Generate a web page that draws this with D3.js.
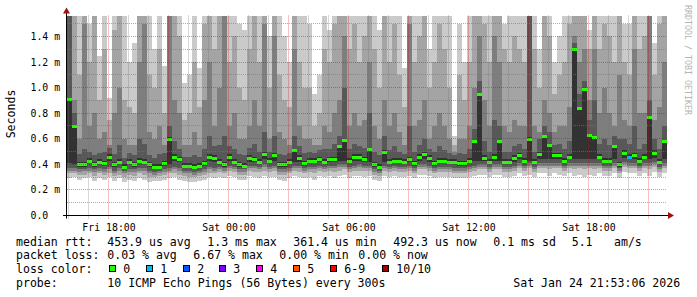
<!DOCTYPE html>
<html>
<head>
<meta charset="utf-8">
<script src="https://cdn.jsdelivr.net/npm/d3@7"></script>
<style>
html, body { margin: 0; padding: 0; background: #fff; }
svg { display: block; font-family: "DejaVu Sans Mono", monospace; }
</style>
</head>
<body>
<svg id="chart" width="697" height="297"></svg>
<script>
// 120 consolidated steps of 15 min, values in ms (sorted pings p1..p10, median, lost pings)
const med = [0.91,0.70,0.40,0.40,0.43,0.40,0.42,0.41,0.46,0.40, 0.42,0.38,0.42,0.40,0.43,0.42,0.40,0.38,0.38,0.41, 0.60,0.46,0.44,0.39,0.39,0.38,0.39,0.41,0.46,0.45,
  0.42,0.40,0.46,0.42,0.40,0.39,0.45,0.44,0.42,0.48, 0.43,0.47,0.40,0.40,0.42,0.51,0.45,0.41,0.43,0.43, 0.44,0.42,0.44,0.44,0.54,0.59,0.43,0.46,0.46,0.44,
  0.52,0.40,0.38,0.50,0.42,0.43,0.43,0.42,0.44,0.41, 0.46,0.48,0.45,0.41,0.43,0.43,0.42,0.42,0.41,0.41, 0.43,0.58,0.95,0.45,0.42,0.46,0.58,0.42,0.42,0.45,
  0.47,0.43,0.60,0.42,0.48,0.62,0.55,0.47,0.47,0.43, 0.46,1.30,0.84,0.99,0.63,0.61,0.46,0.43,0.43,0.54, 0.40,0.49,0.46,0.47,0.43,0.46,0.77,0.49,0.42,0.58];
const loss = [0,0,0,0,0,0,0,0,0,0, 0,0,0,0,0,0,0,0,0,0, 0,0,0,0,0,0,0,0,0,0,
  0,0,0,0,0,0,0,0,0,0, 0,0,0,0,0,0,0,0,0,0, 0,0,0,0,0,0,0,0,0,0,
  0,0,0,0,0,0,0,0,0,0, 0,0,0,0,0,0,0,0,0,0, 0,0,0,0,0,0,0,0,0,0,
  0,0,0,0,0,0,0,0,0,0, 0,0,0,0,0,0,0,0,0,0, 0,0,1,0,0,0,0,0,0,0];
const p10 = [1.6,1.6,1.6,1.6,1.5,1.6,1.25,1.6,0.92,1.6, 1.6,1.6,1.2,1.35,1.6,1.6,1.6,1.3,1.6,1.17, 1.6,1.6,1.6,1.04,1.1,1.6,1.15,1.6,1.6,1.6,
  1.6,1.6,1.6,1.6,1.5,1.45,1.6,1.6,1.6,1.6, 1.4,1.6,1.6,1.4,1.2,1.6,1.6,1.6,1.5,0.95, 1.1,1.6,1.45,1.6,1.6,1.6,1.6,1.6,1.6,1.6,
  1.6,1.6,1.45,1.6,1.6,1.6,1.6,1.15,1.6,1.6, 1.6,1.6,1.3,1.6,1.6,1.6,1.6,0.62,1.5,1.2, 1.6,1.6,1.6,1.6,1.6,1.6,1.6,1.5,1.6,1.6,
  1.6,1.6,1.6,1.6,1.3,1.6,1.6,1.2,1.4,1.6, 1.6,1.6,1.6,1.6,1.45,1.6,1.6,1.6,1.6,1.6, 1.6,1.5,1.5,1.6,1.6,1.6,1.6,1.35,1.6,1.6];
const p9 = [1.6,1.6,1.1,1.6,1.2,1.6,0.9,1.3,0.75,1.45, 1.6,0.9,0.85,0.8,1.6,1.6,1.1,1.0,1.3,0.8, 1.6,1.6,1.4,0.75,0.8,1.2,0.85,1.5,1.6,1.3,
  1.6,1.6,1.2,1.4,1.0,0.9,1.3,1.6,1.2,1.6, 1.0,1.6,1.1,0.9,0.85,1.6,1.2,1.0,1.0,0.7, 0.8,1.3,1.2,1.5,1.6,1.6,1.3,1.5,1.2,1.4,
  1.6,1.3,1.0,1.6,1.2,1.5,1.1,0.85,1.6,1.2, 1.4,1.6,1.0,1.2,1.5,1.3,1.0,0.55,1.1,0.9, 1.2,1.6,1.6,1.5,1.2,1.6,1.6,1.3,1.2,1.4,
  1.3,1.2,1.6,1.3,1.0,1.6,1.4,0.95,1.1,1.2, 1.5,1.6,1.6,1.6,1.3,1.6,1.3,1.5,1.4,1.2, 1.6,1.2,1.1,1.6,1.3,1.4,1.6,1.1,1.5,1.6];
const p8 = [1.6,0.9,0.6,1.5,0.7,0.8,0.6,0.65,0.55,0.8, 1.0,0.6,0.55,0.55,1.2,1.5,0.65,0.6,0.7,0.55, 1.6,0.9,0.8,0.55,0.55,0.65,0.55,0.9,1.2,0.7,
  1.0,1.6,0.7,0.8,0.6,0.6,0.7,0.9,0.7,1.5, 0.6,1.4,0.65,0.6,0.55,1.3,0.7,0.6,0.6,0.55, 0.55,0.7,0.65,0.8,0.9,1.4,0.7,0.8,0.7,0.75,
  1.2,0.7,0.6,0.9,0.7,0.8,0.65,0.55,1.5,0.7, 0.75,0.9,0.6,0.7,0.8,0.7,0.6,0.5,0.6,0.6, 0.7,1.0,1.4,0.9,0.7,1.4,1.2,0.7,0.65,0.75,
  0.7,0.7,1.6,0.7,0.65,0.9,0.8,0.65,0.7,0.7, 0.85,1.4,1.2,1.3,0.9,1.3,0.8,1.0,0.8,0.7, 1.1,0.75,0.7,1.3,0.8,0.8,1.6,0.75,0.85,1.2];
const p7 = [1.6,0.80,0.48,0.52,0.50,0.47,0.49,0.50,0.53,0.48, 0.55,0.45,0.49,0.47,0.60,0.56,0.47,0.45,0.48,0.49, 0.70,0.58,0.52,0.46,0.46,0.47,0.46,0.52,0.62,0.54,
  0.55,0.62,0.54,0.52,0.48,0.47,0.53,0.56,0.50,0.65, 0.50,0.62,0.48,0.47,0.49,0.62,0.54,0.49,0.50,0.49, 0.51,0.52,0.52,0.56,0.62,1.00,0.52,0.56,0.54,0.53,
  0.80,0.50,0.47,0.62,0.51,0.54,0.50,0.48,0.70,0.50, 0.55,0.60,0.52,0.50,0.54,0.51,0.49,0.47,0.49,0.48, 0.52,0.68,1.05,0.58,0.50,0.75,0.70,0.50,0.50,0.54,
  0.56,0.52,1.6,0.50,0.60,0.70,0.65,0.55,0.56,0.52, 0.58,1.35,0.95,1.05,0.75,0.90,0.56,0.60,0.55,0.62, 0.60,0.60,0.56,0.70,0.52,0.56,0.90,0.60,0.52,0.70];
const p6 = [0.92,0.71,0.42,0.42,0.45,0.42,0.44,0.43,0.48,0.42, 0.44,0.40,0.44,0.42,0.45,0.44,0.42,0.40,0.40,0.43, 0.61,0.48,0.46,0.41,0.41,0.40,0.41,0.43,0.48,0.47,
  0.44,0.42,0.48,0.44,0.42,0.41,0.47,0.46,0.44,0.50, 0.45,0.49,0.42,0.42,0.44,0.52,0.47,0.43,0.45,0.45, 0.46,0.44,0.46,0.46,0.55,0.60,0.45,0.48,0.48,0.46,
  0.53,0.42,0.40,0.51,0.44,0.45,0.45,0.44,0.46,0.43, 0.48,0.50,0.47,0.43,0.45,0.45,0.44,0.44,0.43,0.43, 0.45,0.59,0.96,0.47,0.44,0.48,0.59,0.44,0.44,0.47,
  0.49,0.45,0.61,0.44,0.50,0.63,0.56,0.49,0.49,0.45, 0.48,1.31,0.85,1.00,0.64,0.62,0.48,0.45,0.45,0.55, 0.42,0.51,0.48,0.49,0.45,0.48,0.78,0.51,0.44,0.59];
const p5 = [0.41,0.40,0.38,0.38,0.41,0.38,0.40,0.39,0.43,0.38, 0.40,0.36,0.40,0.38,0.41,0.40,0.38,0.36,0.36,0.39, 0.40,0.43,0.42,0.37,0.37,0.36,0.37,0.39,0.43,0.42,
  0.40,0.38,0.43,0.40,0.38,0.37,0.42,0.42,0.40,0.44, 0.41,0.43,0.38,0.38,0.40,0.42,0.42,0.39,0.41,0.41, 0.42,0.40,0.42,0.42,0.43,0.43,0.41,0.43,0.43,0.42,
  0.42,0.38,0.36,0.42,0.40,0.41,0.41,0.40,0.42,0.39, 0.43,0.44,0.42,0.39,0.41,0.41,0.40,0.40,0.39,0.39, 0.41,0.43,0.43,0.43,0.40,0.43,0.43,0.40,0.40,0.42,
  0.44,0.41,0.43,0.40,0.44,0.44,0.44,0.44,0.44,0.41, 0.44,0.44,0.44,0.44,0.44,0.44,0.44,0.41,0.41,0.44, 0.38,0.45,0.44,0.44,0.41,0.44,0.44,0.45,0.40,0.44];
const p4 = [0.37,0.37,0.36,0.36,0.37,0.36,0.37,0.36,0.38,0.35, 0.37,0.35,0.36,0.36,0.37,0.37,0.35,0.34,0.35,0.36, 0.37,0.38,0.37,0.35,0.35,0.34,0.35,0.36,0.38,0.37,
  0.38,0.37,0.39,0.38,0.36,0.36,0.39,0.39,0.38,0.40, 0.38,0.39,0.36,0.36,0.37,0.39,0.39,0.37,0.38,0.38, 0.39,0.38,0.39,0.39,0.40,0.40,0.38,0.39,0.40,0.39,
  0.39,0.36,0.35,0.39,0.38,0.39,0.38,0.38,0.39,0.37, 0.40,0.40,0.39,0.37,0.38,0.38,0.38,0.37,0.37,0.37, 0.38,0.39,0.40,0.40,0.38,0.40,0.40,0.38,0.38,0.39,
  0.41,0.39,0.41,0.38,0.41,0.41,0.41,0.41,0.41,0.39, 0.41,0.41,0.41,0.41,0.41,0.41,0.41,0.39,0.39,0.41, 0.37,0.42,0.41,0.41,0.39,0.41,0.41,0.42,0.38,0.41];
const p3 = [0.35,0.35,0.34,0.35,0.35,0.34,0.35,0.34,0.36,0.33, 0.35,0.33,0.34,0.34,0.35,0.35,0.33,0.32,0.33,0.34, 0.35,0.36,0.35,0.33,0.33,0.32,0.33,0.34,0.36,0.35,
  0.36,0.35,0.37,0.36,0.34,0.34,0.37,0.37,0.36,0.38, 0.36,0.37,0.34,0.34,0.35,0.37,0.37,0.35,0.36,0.36, 0.37,0.36,0.37,0.37,0.38,0.38,0.36,0.37,0.38,0.37,
  0.37,0.34,0.33,0.37,0.36,0.37,0.36,0.36,0.37,0.35, 0.38,0.38,0.37,0.35,0.36,0.36,0.36,0.35,0.35,0.35, 0.36,0.37,0.38,0.38,0.36,0.38,0.38,0.36,0.36,0.37,
  0.39,0.37,0.39,0.36,0.39,0.39,0.39,0.39,0.39,0.37, 0.39,0.39,0.39,0.39,0.39,0.39,0.39,0.37,0.37,0.39, 0.35,0.40,0.39,0.39,0.37,0.39,0.39,0.40,0.36,0.39];
const p2 = [0.33,0.33,0.32,0.32,0.33,0.31,0.33,0.32,0.33,0.31, 0.32,0.30,0.32,0.31,0.33,0.32,0.30,0.30,0.31,0.32, 0.33,0.33,0.32,0.31,0.30,0.30,0.31,0.32,0.33,0.33,
  0.34,0.33,0.35,0.34,0.32,0.32,0.35,0.34,0.34,0.35, 0.34,0.35,0.32,0.32,0.33,0.35,0.34,0.33,0.34,0.33, 0.35,0.34,0.35,0.34,0.35,0.36,0.34,0.35,0.35,0.35,
  0.35,0.32,0.31,0.35,0.34,0.35,0.34,0.34,0.35,0.33, 0.36,0.36,0.35,0.33,0.34,0.34,0.34,0.33,0.33,0.33, 0.34,0.35,0.36,0.36,0.34,0.36,0.36,0.34,0.34,0.35,
  0.37,0.35,0.37,0.34,0.37,0.37,0.36,0.37,0.37,0.35, 0.37,0.36,0.37,0.36,0.37,0.36,0.37,0.35,0.35,0.37, 0.33,0.38,0.37,0.37,0.35,0.37,0.36,0.38,0.34,0.37];
const p1 = [0.29,0.30,0.28,0.29,0.30,0.27,0.29,0.28,0.30,0.27, 0.29,0.26,0.28,0.27,0.29,0.28,0.26,0.27,0.27,0.28, 0.29,0.30,0.28,0.27,0.26,0.26,0.27,0.28,0.30,0.29,
  0.30,0.29,0.31,0.30,0.28,0.28,0.31,0.30,0.29,0.31, 0.30,0.30,0.28,0.27,0.29,0.31,0.30,0.29,0.30,0.28, 0.31,0.30,0.31,0.29,0.31,0.32,0.29,0.31,0.31,0.30,
  0.31,0.28,0.27,0.31,0.30,0.31,0.30,0.30,0.31,0.29, 0.32,0.32,0.31,0.29,0.30,0.30,0.30,0.29,0.29,0.29, 0.30,0.31,0.32,0.32,0.30,0.32,0.32,0.30,0.30,0.31,
  0.33,0.31,0.32,0.30,0.33,0.33,0.31,0.33,0.32,0.31, 0.33,0.31,0.32,0.30,0.32,0.31,0.33,0.31,0.31,0.33, 0.29,0.34,0.33,0.33,0.31,0.33,0.31,0.34,0.30,0.33];

const yTicks = [0, 0.2, 0.4, 0.6, 0.8, 1.0, 1.2, 1.4];
const yMinor = [0.1, 0.3, 0.5, 0.7, 0.9, 1.1, 1.3, 1.5];
const xTickLabels = ["Fri 18:00", "Sat 00:00", "Sat 06:00", "Sat 12:00", "Sat 18:00"];
const xTickTimes = [new Date(2026,0,23,18), new Date(2026,0,24,0), new Date(2026,0,24,6), new Date(2026,0,24,12), new Date(2026,0,24,18)];
const lossLabels = ["0", "1", "2", "3", "4", "5", "6-9", "10/10"];
const lossColors = ["#26ff00", "#00b8ff", "#0059ff", "#7e00ff", "#ff00ff", "#ff5500", "#ff0000", "#a10000"];
const smokeColors = ["#cacaca", "#a4a4a4", "#7e7e7e", "#585858", "#323232"];

const svg = d3.select("#chart");
const N = med.length;
const t0 = new Date(2026, 0, 23, 15, 55, 30);
const t1 = d3.timeHour.offset(t0, 30);
const x = d3.scaleTime().domain([t0, t1]).range([67, 667]);
const y = d3.scaleLinear().domain([0, 1.564]).range([215.5, 15.5]).clamp(true);
const times = d3.range(N + 1).map(i => d3.timeMinute.offset(t0, i * 15));
const pings = [p1, p2, p3, p4, p5, p6, p7, p8, p9, p10];

// smoke: band k goes from ping k to ping 11-k, outer ones lighter
const plot = svg.append("g").attr("shape-rendering", "crispEdges");
smokeColors.forEach((c, k) => {
    const lo = pings[k], hi = pings[9 - k];
    plot.append("g").selectAll("rect").data(d3.range(N)).join("rect")
        .attr("x", i => x(times[i]))
        .attr("width", i => x(times[i + 1]) - x(times[i]))
        .attr("y", i => y(hi[i]))
        .attr("height", i => Math.max(0, y(lo[i]) - y(hi[i])))
        .attr("fill", c);
});

// median, coloured by loss
plot.append("g").selectAll("rect").data(d3.range(N)).join("rect")
    .attr("x", i => x(times[i]))
    .attr("width", i => x(times[i + 1]) - x(times[i]))
    .attr("y", i => Math.round(y(med[i])) - 1)
    .attr("height", 3)
    .attr("fill", i => lossColors[loss[i]]);

// grid on top of the data
const grid = svg.append("g").attr("stroke", "none");
const minorCol = "rgba(120,120,120,0.6)", majorCol = "rgba(215,0,0,0.45)";
const gy = v => Math.floor(y(v));
const gx = t => Math.floor(x(t));
const hDots = yy => d3.range(67, 667, 2).map(xx => `M${xx},${yy}h1v1h-1z`).join("");
grid.append("g").selectAll("path").data(yMinor).join("path").attr("d", v => hDots(gy(v))).attr("fill", minorCol);
grid.append("g").selectAll("path").data(yTicks.slice(1)).join("path").attr("d", v => hDots(gy(v))).attr("fill", majorCol);
// vertical grid: 1px columns, light enough to read like the dotted lines
const hours = d3.timeHour.range(d3.timeHour.ceil(t0), t1);
grid.append("g").selectAll("rect").data(hours).join("rect")
    .attr("x", gx).attr("y", 15).attr("width", 1).attr("height", 204)
    .attr("fill", d => d.getHours() % 3 === 0 ? "rgba(215,0,0,0.24)" : "rgba(110,110,110,0.28)");

// axes
const xAxis = svg.append("g").attr("transform", "translate(0,215.5)")
    .call(d3.axisBottom(x).tickValues(xTickTimes).tickFormat((d, i) => xTickLabels[i]).tickSize(0));
xAxis.select(".domain").remove();
xAxis.selectAll("text").attr("y", 12.5).attr("dy", "0.32em")
    .attr("font-family", "DejaVu Sans Mono").attr("font-size", "9.85px").attr("fill", "#000");

const yAxis = svg.append("g").attr("transform", "translate(66.5,0)")
    .call(d3.axisLeft(y).tickValues(yTicks).tickFormat(v => v === 0 ? "0.0" : d3.format(".1f")(v) + " m").tickSize(0));
yAxis.select(".domain").remove();
yAxis.selectAll(".tick").attr("transform", d => `translate(0,${gy(d) + 0.5})`);
yAxis.selectAll("text").attr("x", 30.5 - 66.5).attr("text-anchor", "start").attr("dy", "0.34em")
    .attr("font-family", "DejaVu Sans Mono").attr("font-size", "9.85px").attr("fill", "#000");

svg.append("line").attr("x1", 63).attr("x2", 669).attr("y1", 215.5).attr("y2", 215.5).attr("stroke", "#000");
svg.append("line").attr("x1", 66.5).attr("x2", 66.5).attr("y1", 12).attr("y2", 218.5).attr("stroke", "#000");
svg.append("polygon").attr("points", "668,212 668,219 674,215.5").attr("fill", "#a01010");
svg.append("polygon").attr("points", "63,13.5 70,13.5 66.5,7.5").attr("fill", "#a01010");

svg.append("text").attr("transform", "translate(15,114) rotate(-90)").attr("text-anchor", "middle")
    .attr("font-size", "11.55px").attr("fill", "#000").text("Seconds");
svg.append("text").attr("transform", "translate(684.5,5) rotate(90)")
    .attr("font-size", "8.3px").attr("fill", "#b4b4b4").text("RRDTOOL / TOBI OETIKER");

// legend
const legend = svg.append("g").attr("font-size", "11.55px").attr("fill", "#000");
const rows = [
    [245.7, [[16, "median rtt:"], [107.3, "453.9 us avg"], [207.3, "1.3 ms max"], [293.3, "361.4 us min"], [393.3, "492.3 us now"], [493.3, "0.1 ms sd"], [571.7, "5.1"], [614, "am/s"]]],
    [259, [[16, "packet loss:"], [107.3, "0.03 % avg"], [193.3, "6.67 % max"], [279.3, "0.00 % min"], [358.3, "0.00 % now"]]],
    [273, [[16, "loss color:"]]],
    [286.7, [[16, "probe:"], [107.3, "10 ICMP Echo Pings (56 Bytes) every 300s"], [513.3, "Sat Jan 24 21:53:06 2026"]]]
];
rows.forEach(([by, items]) => {
    items.forEach(([lx, s]) => legend.append("text").attr("x", lx).attr("y", by).text(s));
});
const swatchX = [109, 145.7, 182.7, 219.3, 256.3, 293.3, 330.3, 381.7];
const swatch = legend.selectAll(".sw").data(lossLabels).join("g")
    .attr("transform", (d, i) => `translate(${Math.round(swatchX[i])},0)`);
swatch.append("rect").attr("x", 0.5).attr("y", 265.5).attr("width", 6).attr("height", 6)
    .attr("fill", (d, i) => lossColors[i]).attr("stroke", "#000").attr("shape-rendering", "crispEdges");
swatch.append("text").attr("x", 14.3).attr("y", 273).text(d => d);
</script>
</body>
</html>
